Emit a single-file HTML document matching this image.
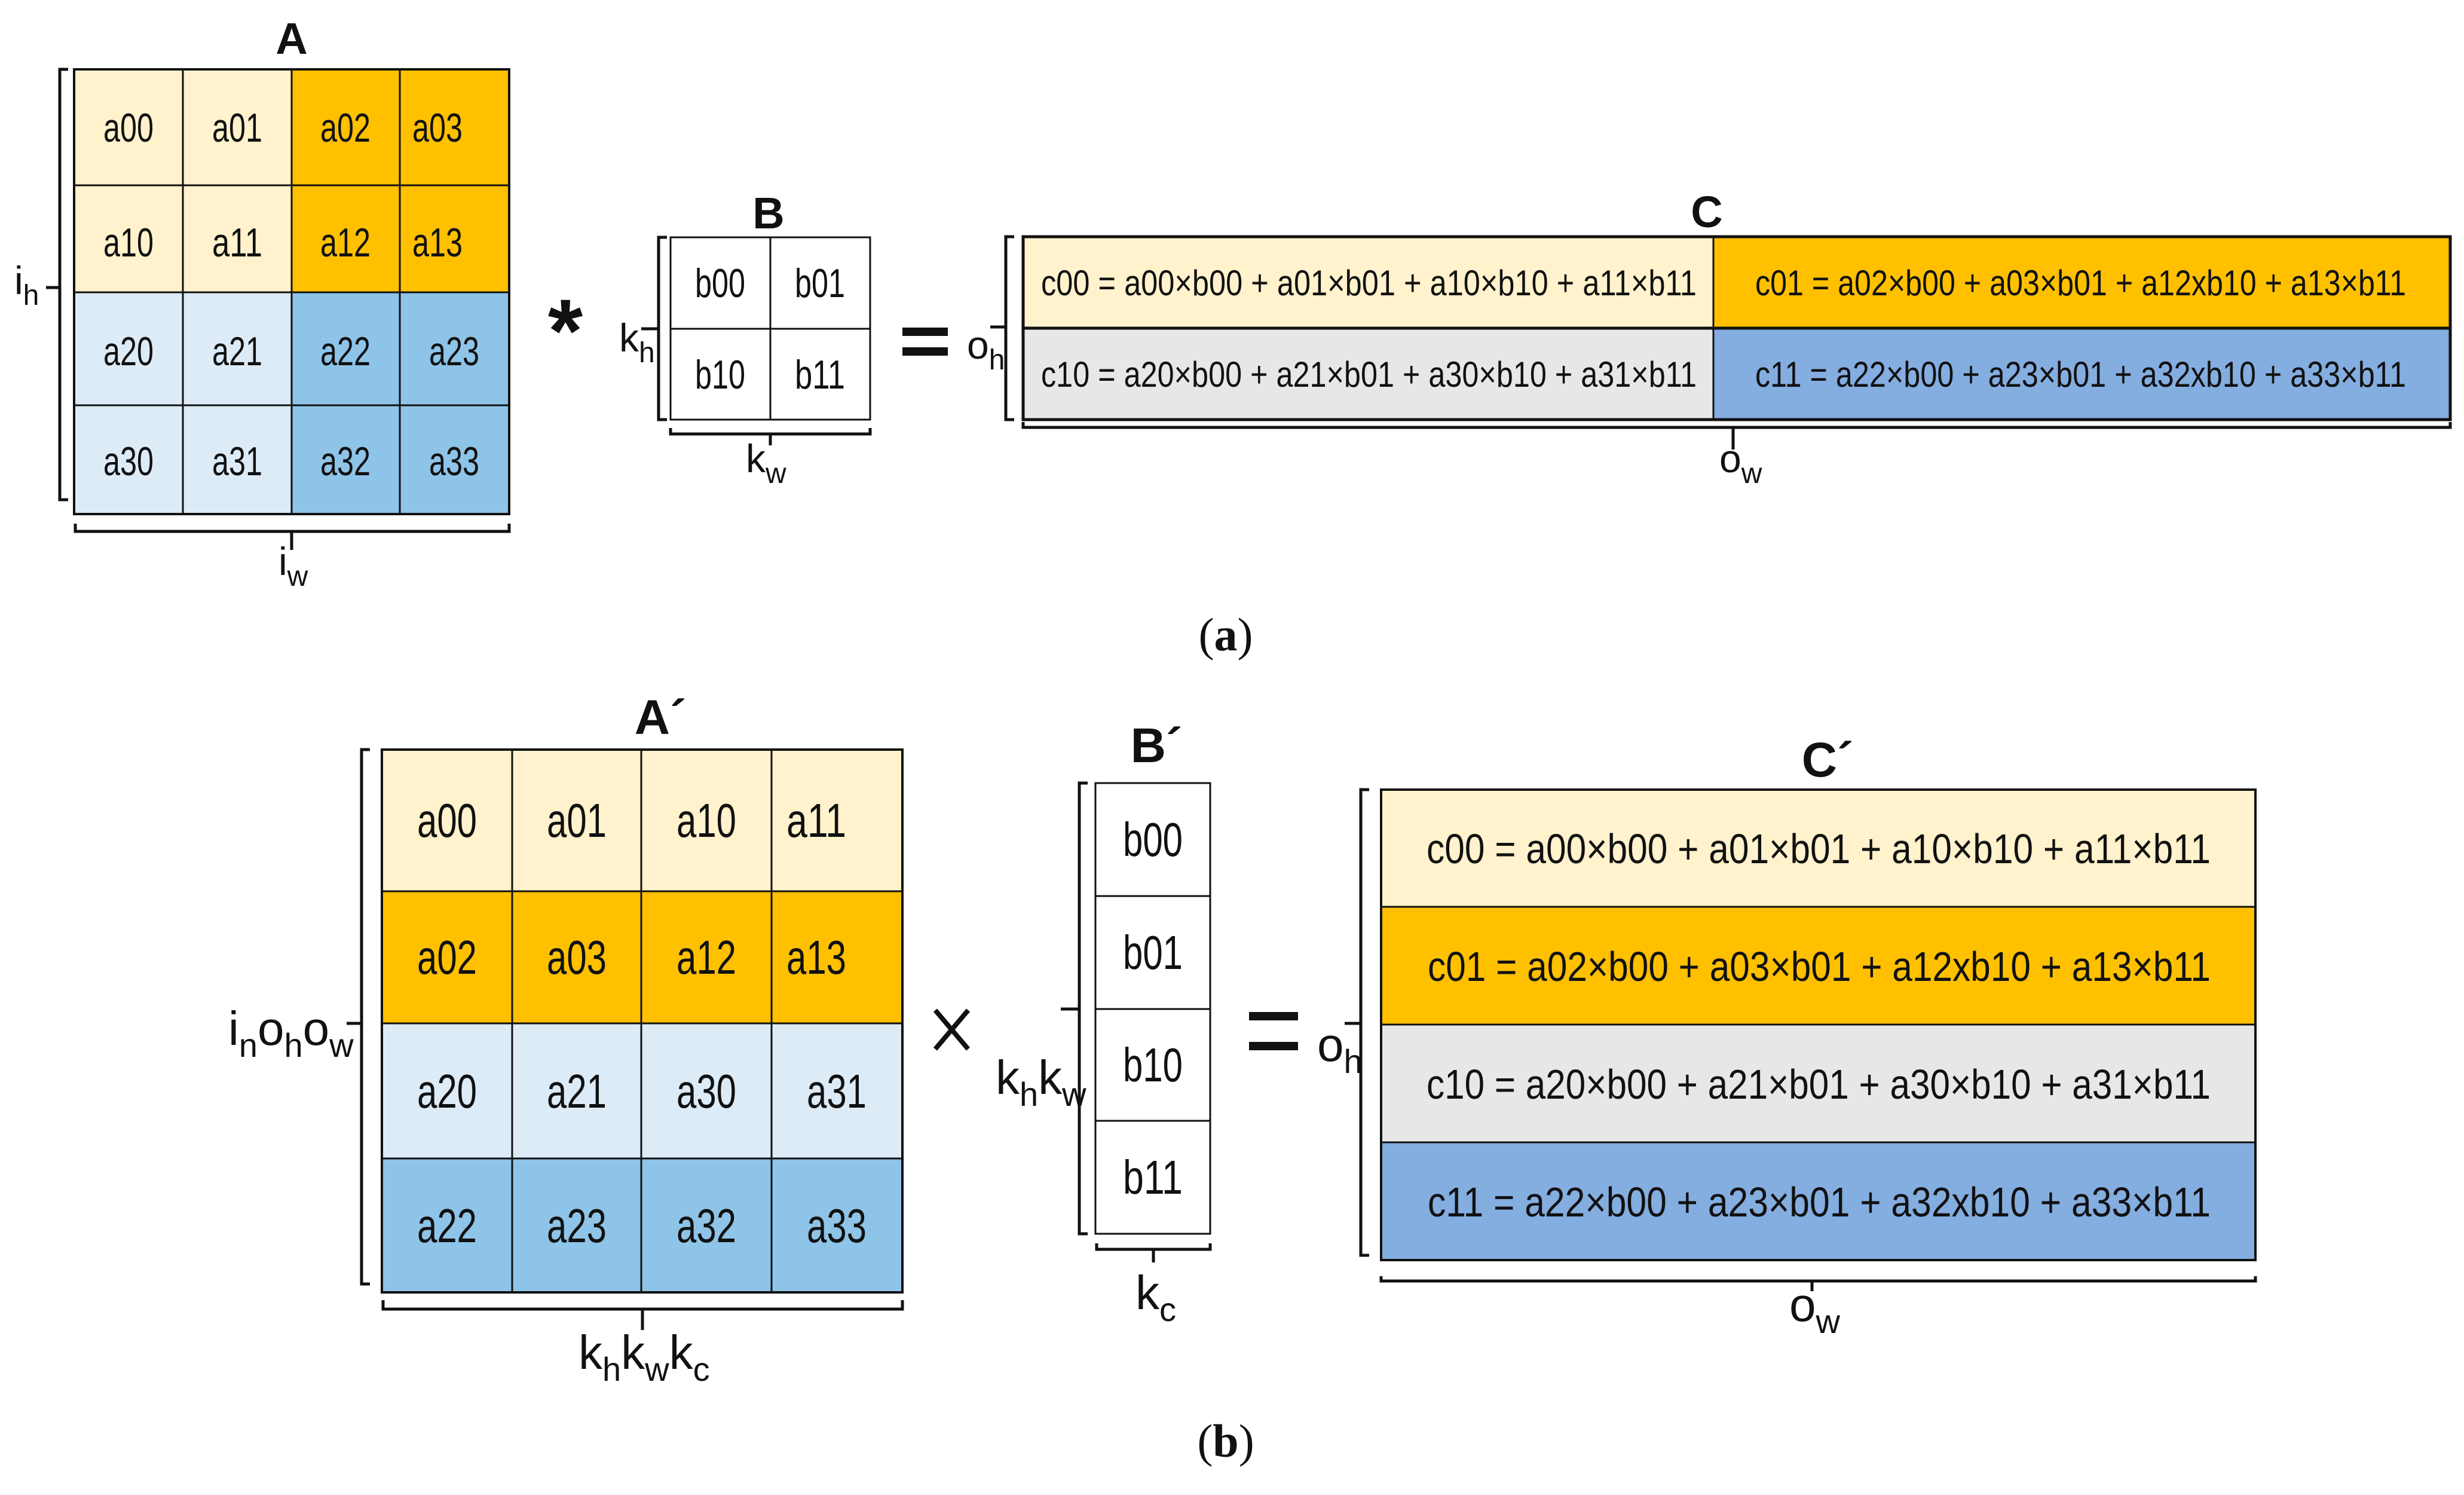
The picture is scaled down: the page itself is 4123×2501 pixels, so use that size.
<!DOCTYPE html>
<html><head><meta charset="utf-8"><style>
html,body{margin:0;padding:0;background:#fff;}
svg{display:block;}
text{font-family:"Liberation Sans",sans-serif;fill:#111;}
.t1{font-size:68px;}
.t2{font-size:80px;}
.eq1{font-size:60px;}
.eq2{font-size:70px;}
.lbl{font-size:66px;}
.lbl2{font-size:80px;}
.cap{font-family:"Liberation Serif",serif;font-size:78px;}
</style></head><body>
<svg width="4123" height="2501" viewBox="0 0 4123 2501" xmlns="http://www.w3.org/2000/svg">
<g stroke="#111" stroke-width="3">
<rect x="124" y="116" width="364" height="373" fill="#FFF2CC"/>
<rect x="488" y="116" width="364" height="373" fill="#FFC000"/>
<rect x="124" y="489" width="364" height="371" fill="#DDEBF7"/>
<rect x="488" y="489" width="364" height="371" fill="#8EC4E8"/>
<path d="M306 116V860M488 116V860M669 116V860M124 310H852M124 489H852M124 678H852" fill="none"/>
<rect x="124" y="116" width="728" height="744" fill="none" stroke-width="4"/>
<rect x="1122" y="397" width="334" height="305" fill="#fff"/>
<path d="M1289 397V702M1122 550H1456" fill="none"/>
<rect x="1712" y="396" width="1155" height="153" fill="#FFF2CC"/>
<rect x="2867" y="396" width="1233" height="153" fill="#FFC000"/>
<rect x="1712" y="549" width="1155" height="153" fill="#E7E7E7"/>
<rect x="2867" y="549" width="1233" height="153" fill="#84ADE0"/>
<path d="M2867 396V702" fill="none" stroke-width="2"/>
<path d="M1712 549H4100" fill="none" stroke-width="5"/>
<rect x="1712" y="396" width="2388" height="306" fill="none" stroke-width="5"/>
<rect x="639" y="1254" width="871" height="237" fill="#FFF2CC"/>
<rect x="639" y="1491" width="871" height="221" fill="#FFC000"/>
<rect x="639" y="1712" width="871" height="226" fill="#DDEBF7"/>
<rect x="639" y="1938" width="871" height="224" fill="#8EC4E8"/>
<path d="M857 1254V2162M1073 1254V2162M1291 1254V2162M639 1491H1510M639 1712H1510M639 1938H1510" fill="none"/>
<rect x="639" y="1254" width="871" height="908" fill="none" stroke-width="4"/>
<rect x="1833" y="1310" width="192" height="754" fill="#fff"/>
<path d="M1833 1499H2025M1833 1688H2025M1833 1875H2025" fill="none"/>
<rect x="2311" y="1321" width="1463" height="196" fill="#FFF2CC"/>
<rect x="2311" y="1517" width="1463" height="197" fill="#FFC000"/>
<rect x="2311" y="1714" width="1463" height="197" fill="#E7E7E7"/>
<rect x="2311" y="1911" width="1463" height="197" fill="#84ADE0"/>
<rect x="2311" y="1321" width="1463" height="787" fill="none" stroke-width="4"/>
</g>
<g stroke="#111" stroke-width="5" fill="none">
<path d="M114 116H100V836H114M100 481H77"/>
<path d="M126 876V889H852V876M488 889V920"/>
<path d="M1116 397H1102V702H1116M1102 550H1073"/>
<path d="M1122 716V726H1456V716M1289 726V745"/>
<path d="M1697 396H1683V702H1697M1683 547H1657"/>
<path d="M1712 706V715H4100V706M2900 715V752"/>
<path d="M619 1254H605V2148H619M605 1712H580"/>
<path d="M641 2175V2190H1510V2175M1075 2190V2225"/>
<path d="M1820 1310H1806V2064H1820M1806 1688H1775"/>
<path d="M1835 2080V2090H2025V2080M1930 2090V2112"/>
<path d="M2291 1321H2277V2100H2291M2277 1712H2250"/>
<path d="M2311 2135V2143H3774V2135M3032 2143V2160"/>
</g>
<g class="t1" text-anchor="middle">
<text x="215" y="237" textLength="84" lengthAdjust="spacingAndGlyphs">a00</text>
<text x="397" y="237" textLength="84" lengthAdjust="spacingAndGlyphs">a01</text>
<text x="578" y="237" textLength="84" lengthAdjust="spacingAndGlyphs">a02</text>
<text x="732" y="237" textLength="84" lengthAdjust="spacingAndGlyphs">a03</text>
<text x="215" y="429" textLength="84" lengthAdjust="spacingAndGlyphs">a10</text>
<text x="397" y="429" textLength="84" lengthAdjust="spacingAndGlyphs">a11</text>
<text x="578" y="429" textLength="84" lengthAdjust="spacingAndGlyphs">a12</text>
<text x="732" y="429" textLength="84" lengthAdjust="spacingAndGlyphs">a13</text>
<text x="215" y="611" textLength="84" lengthAdjust="spacingAndGlyphs">a20</text>
<text x="397" y="611" textLength="84" lengthAdjust="spacingAndGlyphs">a21</text>
<text x="578" y="611" textLength="84" lengthAdjust="spacingAndGlyphs">a22</text>
<text x="760" y="611" textLength="84" lengthAdjust="spacingAndGlyphs">a23</text>
<text x="215" y="795" textLength="84" lengthAdjust="spacingAndGlyphs">a30</text>
<text x="397" y="795" textLength="84" lengthAdjust="spacingAndGlyphs">a31</text>
<text x="578" y="795" textLength="84" lengthAdjust="spacingAndGlyphs">a32</text>
<text x="760" y="795" textLength="84" lengthAdjust="spacingAndGlyphs">a33</text>
<text x="1205" y="497" textLength="84" lengthAdjust="spacingAndGlyphs">b00</text>
<text x="1372" y="497" textLength="84" lengthAdjust="spacingAndGlyphs">b01</text>
<text x="1205" y="650" textLength="84" lengthAdjust="spacingAndGlyphs">b10</text>
<text x="1372" y="650" textLength="84" lengthAdjust="spacingAndGlyphs">b11</text>
</g>
<g class="eq1">
<text x="1742" y="494" textLength="1097" lengthAdjust="spacingAndGlyphs">c00 = a00×b00 + a01×b01 + a10×b10 + a11×b11</text>
<text x="2937" y="494" textLength="1089" lengthAdjust="spacingAndGlyphs">c01 = a02×b00 + a03×b01 + a12xb10 + a13×b11</text>
<text x="1742" y="647" textLength="1097" lengthAdjust="spacingAndGlyphs">c10 = a20×b00 + a21×b01 + a30×b10 + a31×b11</text>
<text x="2937" y="647" textLength="1089" lengthAdjust="spacingAndGlyphs">c11 = a22×b00 + a23×b01 + a32xb10 + a33×b11</text>
</g>
<g class="t2" text-anchor="middle">
<text x="748" y="1400" textLength="100" lengthAdjust="spacingAndGlyphs">a00</text>
<text x="965" y="1400" textLength="100" lengthAdjust="spacingAndGlyphs">a01</text>
<text x="1182" y="1400" textLength="100" lengthAdjust="spacingAndGlyphs">a10</text>
<text x="1366" y="1400" textLength="100" lengthAdjust="spacingAndGlyphs">a11</text>
<text x="748" y="1629" textLength="100" lengthAdjust="spacingAndGlyphs">a02</text>
<text x="965" y="1629" textLength="100" lengthAdjust="spacingAndGlyphs">a03</text>
<text x="1182" y="1629" textLength="100" lengthAdjust="spacingAndGlyphs">a12</text>
<text x="1366" y="1629" textLength="100" lengthAdjust="spacingAndGlyphs">a13</text>
<text x="748" y="1853" textLength="100" lengthAdjust="spacingAndGlyphs">a20</text>
<text x="965" y="1853" textLength="100" lengthAdjust="spacingAndGlyphs">a21</text>
<text x="1182" y="1853" textLength="100" lengthAdjust="spacingAndGlyphs">a30</text>
<text x="1400" y="1853" textLength="100" lengthAdjust="spacingAndGlyphs">a31</text>
<text x="748" y="2078" textLength="100" lengthAdjust="spacingAndGlyphs">a22</text>
<text x="965" y="2078" textLength="100" lengthAdjust="spacingAndGlyphs">a23</text>
<text x="1182" y="2078" textLength="100" lengthAdjust="spacingAndGlyphs">a32</text>
<text x="1400" y="2078" textLength="100" lengthAdjust="spacingAndGlyphs">a33</text>
<text x="1929" y="1432" textLength="100" lengthAdjust="spacingAndGlyphs">b00</text>
<text x="1929" y="1621" textLength="100" lengthAdjust="spacingAndGlyphs">b01</text>
<text x="1929" y="1809" textLength="100" lengthAdjust="spacingAndGlyphs">b10</text>
<text x="1929" y="1997" textLength="100" lengthAdjust="spacingAndGlyphs">b11</text>
</g>
<g class="eq2">
<text x="2387" y="1444" textLength="1312" lengthAdjust="spacingAndGlyphs">c00 = a00×b00 + a01×b01 + a10×b10 + a11×b11</text>
<text x="2389" y="1641" textLength="1310" lengthAdjust="spacingAndGlyphs">c01 = a02×b00 + a03×b01 + a12xb10 + a13×b11</text>
<text x="2387" y="1838" textLength="1312" lengthAdjust="spacingAndGlyphs">c10 = a20×b00 + a21×b01 + a30×b10 + a31×b11</text>
<text x="2389" y="2035" textLength="1310" lengthAdjust="spacingAndGlyphs">c11 = a22×b00 + a23×b01 + a32xb10 + a33×b11</text>
</g>
<g text-anchor="middle" font-weight="bold">
<text x="488" y="90" font-size="74">A</text>
<text x="1286" y="382" font-size="74">B</text>
<text x="2856" y="380" font-size="74">C</text>
<text x="1105" y="1228" font-size="82">A´</text>
<text x="1935" y="1275" font-size="82">B´</text>
<text x="3058" y="1299" font-size="82">C´</text>
</g>
<text x="946" y="605" font-size="150" font-weight="bold" text-anchor="middle">*</text>
<path d="M1510 555H1586M1510 588H1586M2090 1700H2172M2090 1750H2172" stroke="#111" stroke-width="14"/>
<path d="M1565 1690L1620 1755M1620 1690L1565 1755" stroke="#111" stroke-width="8"/>
<g class="lbl">
<text x="24" y="492">i<tspan font-size="48" dy="18">h</tspan></text>
<text x="466" y="962">i<tspan font-size="48" dy="18">w</tspan></text>
<text x="1036" y="588">k<tspan font-size="48" dy="18">h</tspan></text>
<text x="1248" y="790">k<tspan font-size="48" dy="18">w</tspan></text>
<text x="1618" y="600">o<tspan font-size="48" dy="18">h</tspan></text>
<text x="2877" y="790">o<tspan font-size="48" dy="18">w</tspan></text>
</g>
<g class="lbl2">
<text x="382" y="1748">i<tspan font-size="56" dy="20">n</tspan><tspan dy="-20">o</tspan><tspan font-size="56" dy="20">h</tspan><tspan dy="-20">o</tspan><tspan font-size="56" dy="20">w</tspan></text>
<text x="1666" y="1830">k<tspan font-size="56" dy="20">h</tspan><tspan dy="-20">k</tspan><tspan font-size="56" dy="20">w</tspan></text>
<text x="968" y="2290">k<tspan font-size="56" dy="20">h</tspan><tspan dy="-20">k</tspan><tspan font-size="56" dy="20">w</tspan><tspan dy="-20">k</tspan><tspan font-size="56" dy="20">c</tspan></text>
<text x="1900" y="2190">k<tspan font-size="56" dy="20">c</tspan></text>
<text x="2204" y="1775">o<tspan font-size="56" dy="20">h</tspan></text>
<text x="2994" y="2210">o<tspan font-size="56" dy="20">w</tspan></text>
</g>
<text class="cap" x="2051" y="1088" text-anchor="middle">(<tspan font-weight="bold">a</tspan>)</text>
<text class="cap" x="2051" y="2437" text-anchor="middle">(<tspan font-weight="bold">b</tspan>)</text>
</svg>
</body></html>
